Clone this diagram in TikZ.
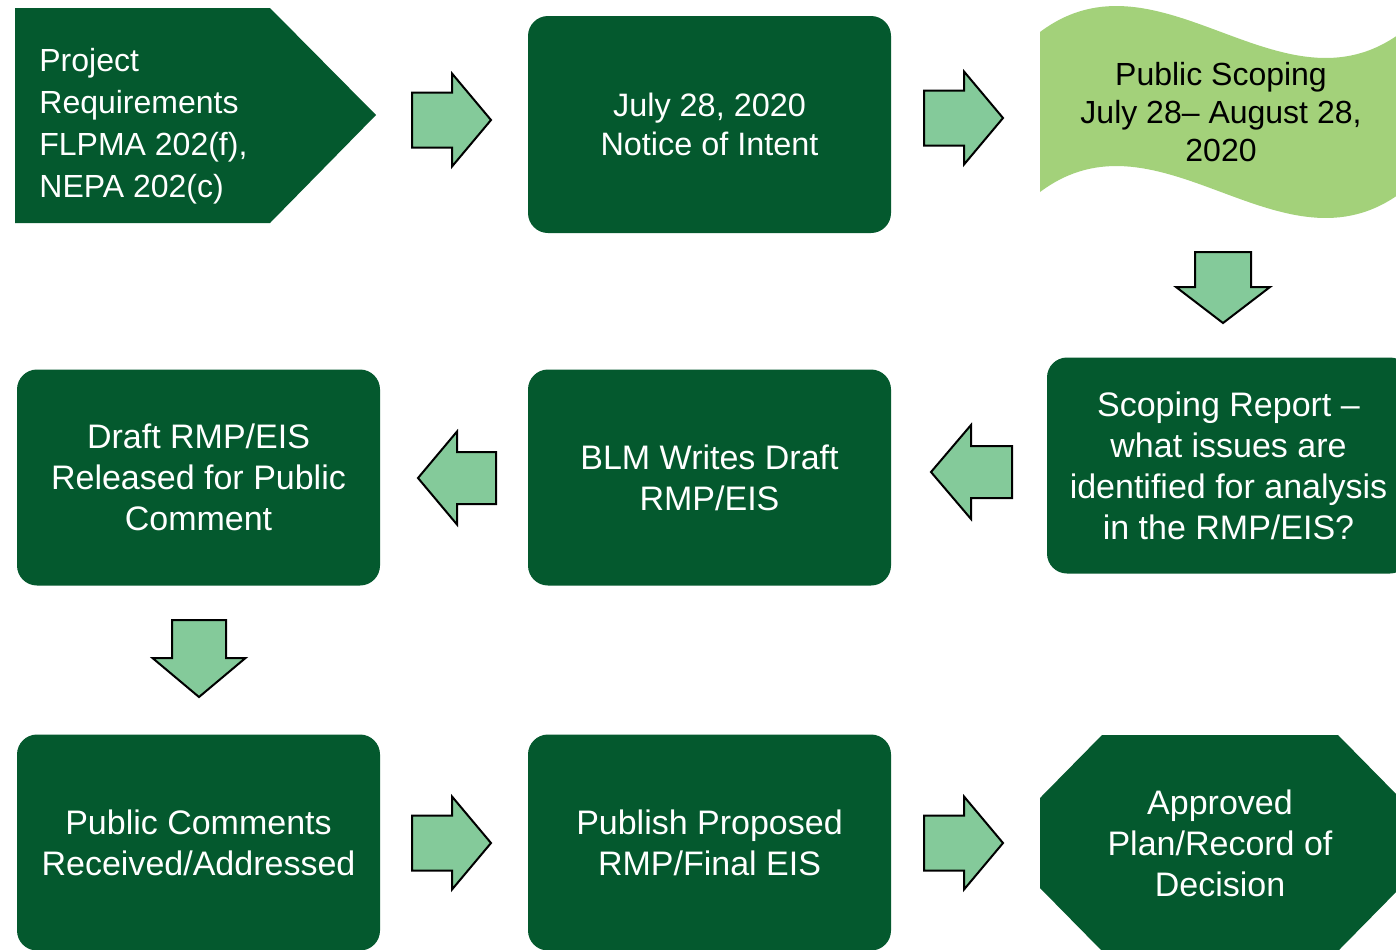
\documentclass[tikz,border=0pt]{standalone}
\usepackage{fontspec}
\setmainfont{Liberation Sans}
\definecolor{dkgreen}{HTML}{04592E}
\definecolor{arrowgreen}{HTML}{84CA9A}
\definecolor{wavegreen}{HTML}{A3D17A}
\begin{document}
\begin{tikzpicture}[x=0.5pt,y=-0.5pt,
  box/.style={fill=dkgreen, rounded corners=10pt, minimum width=181.5pt, minimum height=108pt,
    text=white, align=center, font=\fontsize{17}{20.5}\selectfont, inner sep=0pt},
  boxtext/.style={text=white, align=center, font=\fontsize{17}{20.5}\selectfont, inner sep=0pt},
  blockarrow/.style={fill=arrowgreen, draw=black, line width=1pt, line join=miter}]
\clip (0,0) rectangle (1396,949);
\fill[white] (0,0) rectangle (1396,949);

% Row 1
\fill[dkgreen] (15,8) -- (270,8) -- (376,115) -- (270,223) -- (15,223) -- cycle;
\node[boxtext, align=left, anchor=west, font=\fontsize{16}{21}\selectfont] (req) at (39,126)
  {Project\\Requirements\\FLPMA 202(f),\\NEPA 202(c)};

\draw[blockarrow, shift={(412,120)}] (0,-27.5) -- (40,-27.5) -- (40,-46.5) -- (79,0) -- (40,46.5) -- (40,27.5) -- (0,27.5) -- cycle;

\node[box, minimum height=108.5pt, font=\fontsize{16.2}{19.5}\selectfont] (noi) at (709.5,124.5) {July 28, 2020\\Notice of Intent};

\draw[blockarrow, shift={(924,118)}] (0,-27.5) -- (40,-27.5) -- (40,-46.5) -- (79,0) -- (40,46.5) -- (40,27.5) -- (0,27.5) -- cycle;

\fill[wavegreen] (1040,32) .. controls (1160,-58) and (1282,122) .. (1402,32)
  -- (1402,192) .. controls (1282,282) and (1160,102) .. (1040,192) -- cycle;
\node[boxtext, text=black, font=\fontsize{16}{19}\selectfont] (scop) at (1221,112)
  {Public Scoping\\July 28– August 28,\\2020};

\draw[blockarrow, shift={(1223,252)}] (-28,0) -- (28,0) -- (28,35) -- (47,35) -- (0,71) -- (-47,35) -- (-28,35) -- cycle;

% Row 2
\node[box] (rep) at (1228.5,465.5) {Scoping Report –\\what issues are\\identified for analysis\\in the RMP/EIS?};

\draw[blockarrow, shift={(1012,472)}, rotate=180] (0,-26) -- (41,-26) -- (41,-47) -- (81,0) -- (41,47) -- (41,26) -- (0,26) -- cycle;

\node[box] (blm) at (709.5,477.5) {BLM Writes Draft\\RMP/EIS};

\draw[blockarrow, shift={(496,478)}, rotate=180] (0,-26) -- (39,-26) -- (39,-46.5) -- (78,0) -- (39,46.5) -- (39,26) -- (0,26) -- cycle;

\node[box] (draft) at (198.5,477.5) {Draft RMP/EIS\\Released for Public\\Comment};

\draw[blockarrow, shift={(199,620)}] (-27,0) -- (27,0) -- (27,38) -- (46.5,38) -- (0,77) -- (-46.5,38) -- (-27,38) -- cycle;

% Row 3
\node[box] (com) at (198.5,842.5) {Public Comments\\Received/Addressed};

\draw[blockarrow, shift={(412,843)}] (0,-27.5) -- (40,-27.5) -- (40,-46.5) -- (79,0) -- (40,46.5) -- (40,27.5) -- (0,27.5) -- cycle;

\node[box] (pub) at (709.5,842.5) {Publish Proposed\\RMP/Final EIS};

\draw[blockarrow, shift={(924,843)}] (0,-27.5) -- (40,-27.5) -- (40,-46.5) -- (79,0) -- (40,46.5) -- (40,27.5) -- (0,27.5) -- cycle;

\fill[dkgreen] (1102,735) -- (1338,735) -- (1400,798) -- (1400,888) -- (1338,951)
  -- (1102,951) -- (1040,888) -- (1040,798) -- cycle;
\node[boxtext] (dec) at (1220,843) {Approved\\Plan/Record of\\Decision};
\end{tikzpicture}
\end{document}
